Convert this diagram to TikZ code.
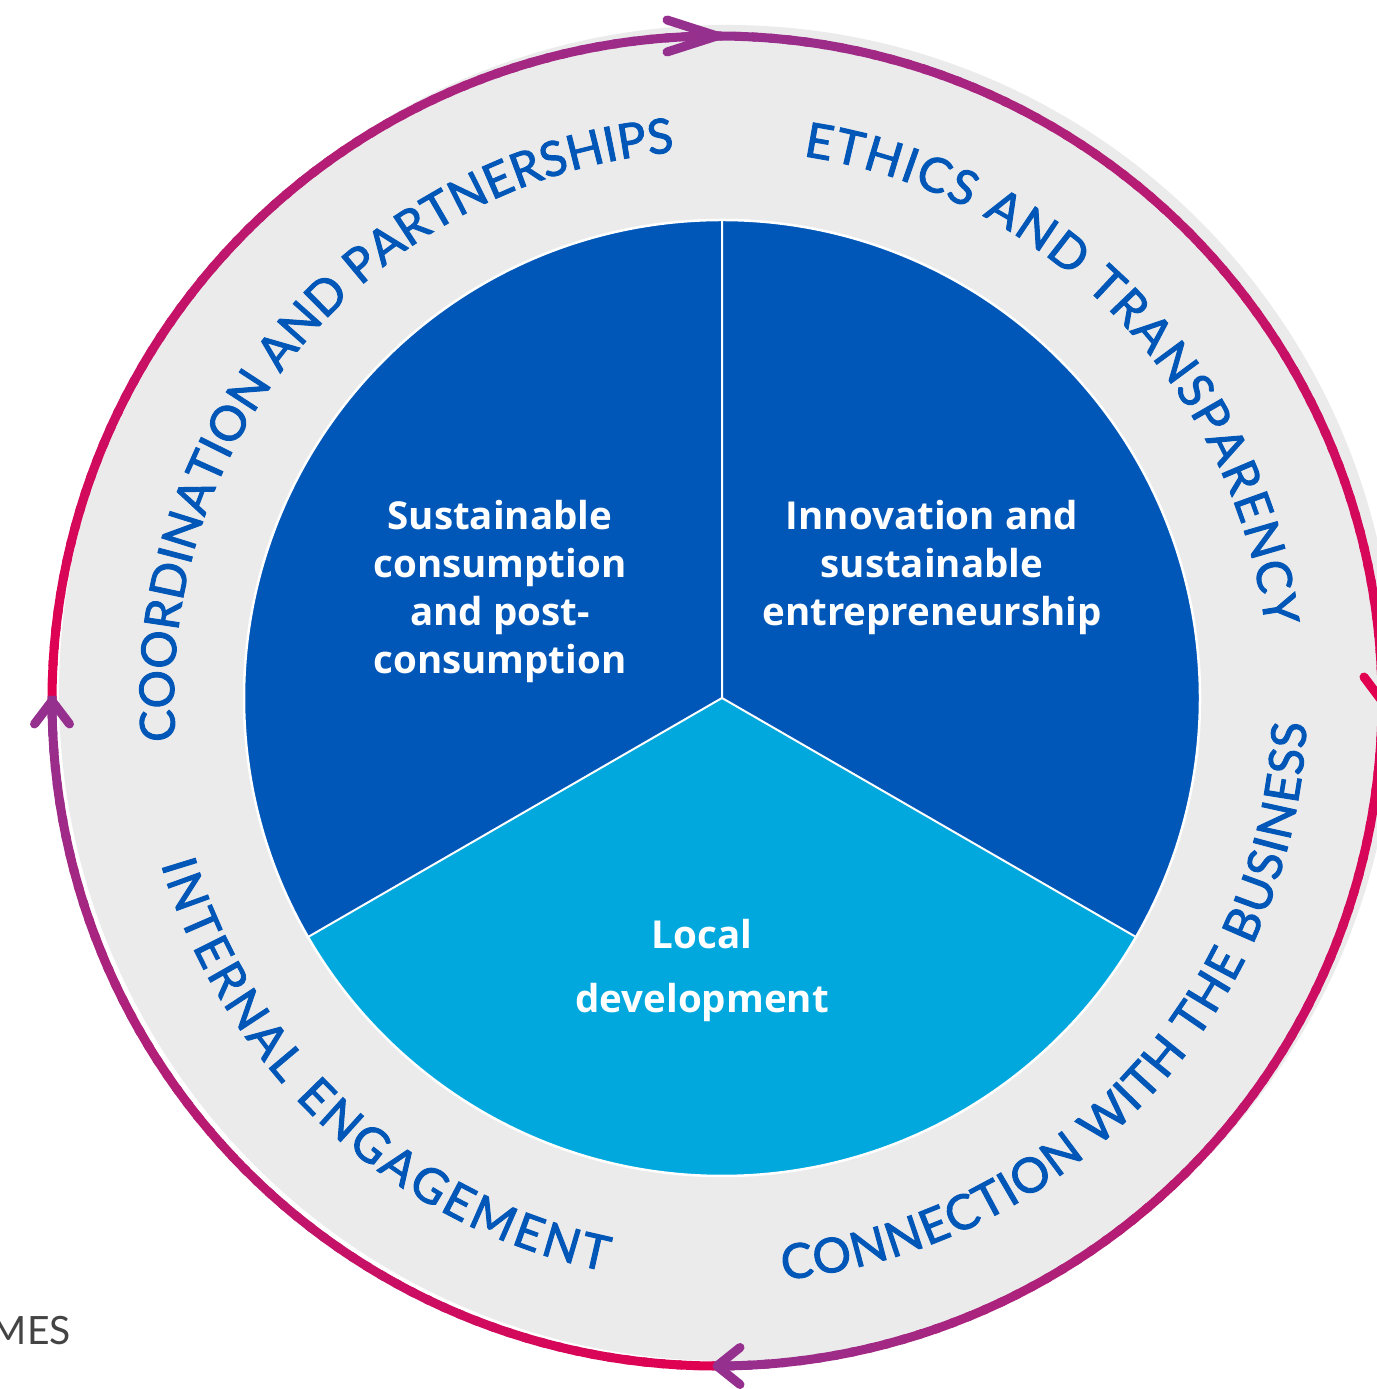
\documentclass[tikz,border=0pt]{standalone}
\usepackage{fontspec}
\setmainfont{Open Sans}
\newfontfamily\ringfamily{Lato}[FakeBold=2]
\newfontfamily\mesfamily{Lato}
\usetikzlibrary{decorations.text,calc}
\definecolor{pieblue}{RGB}{0,87,184}
\definecolor{pielight}{RGB}{0,168,222}
\definecolor{ringgray}{RGB}{235,235,235}
\definecolor{arcpurple}{RGB}{150,48,142}
\definecolor{arccrimson}{RGB}{225,0,80}
\definecolor{mesgray}{RGB}{68,68,68}
\newcommand\ringfmt{\ringfamily\fontsize{48}{58}\selectfont}
\tikzset{
  innertext/.style={text=white, font=\bfseries\fontsize{38.5}{48}\selectfont, align=center, inner sep=0pt},
  ringtext/.style={decorate, decoration={text along path, text align=fit to path, text color=pieblue}},
  arcseg/.style={line width=9pt},
  arrowarm/.style={line width=9pt, line cap=round, line join=round},
}
\newcommand\gradarc[4]{%
  \fill[#3] ($(A)+(#1:665)$) circle (4.5);
  \foreach \k in {0,...,59}{
    \pgfmathsetmacro\aa{#1+(#2-#1)*\k/60}
    \pgfmathsetmacro\bb{#1+(#2-#1)*(\k+1.3)/60}
    \pgfmathtruncatemacro\pp{100*\k/59}
    \draw[arcseg, color=#4!\pp!#3] ($(A)+(\aa:665)$) arc[start angle=\aa, end angle=\bb, radius=665];
  }}
\begin{document}
\begin{tikzpicture}[x=1pt,y=1pt]
\useasboundingbox (0,0) rectangle (1376,1389);
\coordinate (P) at (722,691);
\coordinate (A) at (717,688);
\coordinate (G) at (727,696);
% grey ring
\fill[ringgray] (G) circle (668);
% gradient arcs
\gradarc{180}{90}{arccrimson}{arcpurple}
\gradarc{90}{0}{arcpurple}{arccrimson}
\gradarc{0}{-90}{arccrimson}{arcpurple}
\gradarc{-90}{-180}{arccrimson}{arcpurple}
% arrowheads
\coordinate (tTop) at ($(A)+(90:665)$);
\coordinate (tRight) at ($(A)+(0:665)$);
\coordinate (tBottom) at ($(A)+(-90:665)$);
\coordinate (tLeft) at ($(A)+(180:665)$);
\draw[arrowarm, arcpurple] ($(tTop)+(-50,16)$) -- (tTop) -- ($(tTop)+(-50,-16)$);
\draw[arrowarm, arccrimson] ($(tRight)+(-18,24)$) -- (tRight) -- ($(tRight)+(18,24)$);
\draw[arrowarm, arcpurple] ($(tBottom)+(23,18.5)$) -- (tBottom) -- ($(tBottom)+(23,-18.5)$);
\draw[arrowarm, arcpurple] ($(tLeft)+(-17.5,-23)$) -- (tLeft) -- ($(tLeft)+(17.5,-23)$);
% pie
\fill[pieblue] (P) -- ($(P)+(90:478)$) arc[start angle=90,end angle=210,radius=478] -- cycle;
\fill[pieblue] (P) -- ($(P)+(-30:478)$) arc[start angle=-30,end angle=90,radius=478] -- cycle;
\fill[pielight] (P) -- ($(P)+(210:478)$) arc[start angle=210,end angle=330,radius=478] -- cycle;
\draw[white, line width=2.5pt] (P) circle (478);
\draw[white, line width=2pt] (P) -- ($(P)+(90:478)$) (P) -- ($(P)+(210:478)$) (P) -- ($(P)+(330:478)$);
% inner texts
\node[innertext] (sus) at (500,797) {Sustainable\\consumption\\and post-\\consumption};
\node[innertext] (inn) at (932,821) {Innovation and\\sustainable\\entrepreneurship};
\node[innertext, font=\bfseries\fontsize{38.5}{64}\selectfont] (loc) at (702,418) {Local\\development};
% ring texts
\path[ringtext, decoration={text={|\ringfmt|COORDINATION AND PARTNERSHIPS}}]
  ($(P)+(184.5:548)$) arc[start angle=184.5,end angle=95,radius=548];
\path[ringtext, decoration={text={|\ringfmt|ETHICS AND TRANSPARENCY}}]
  ($(P)+(81.5:548)$) arc[start angle=81.5,end angle=7.5,radius=548];
\path[ringtext, decoration={text={|\ringfmt|CONNECTION WITH THE BUSINESS}}]
  ($(P)+(-84:585)$) arc[start angle=-84,end angle=-2.5,radius=585];
\path[ringtext, decoration={text={|\ringfmt|INTERNAL ENGAGEMENT}}]
  ($(P)+(196.5:585)$) arc[start angle=196.5,end angle=258.5,radius=585];
% cut-off label
\node[font=\mesfamily\fontsize{39}{40}\selectfont, text=mesgray, anchor=base east, inner sep=0pt] (mes) at (71,44) {MES};
\end{tikzpicture}
\end{document}
